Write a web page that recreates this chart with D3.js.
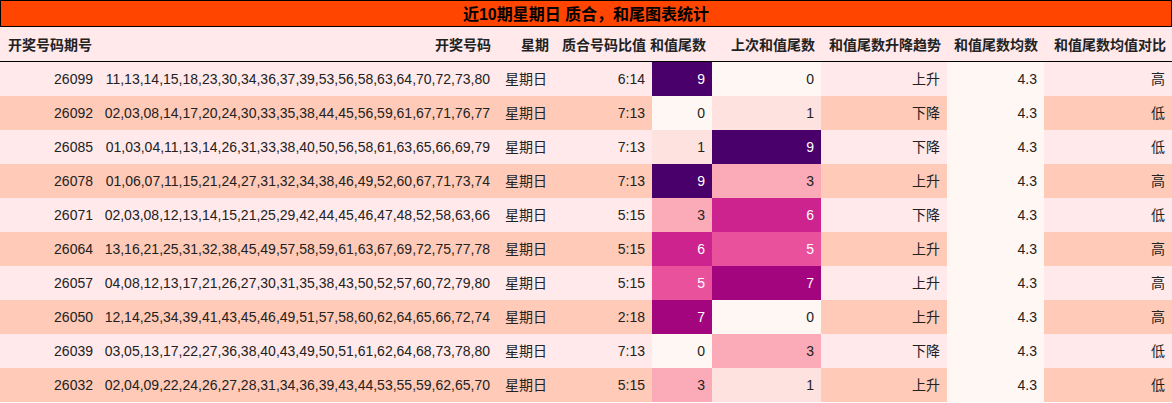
<!DOCTYPE html>
<html><head><meta charset="utf-8">
<script src="https://cdn.jsdelivr.net/npm/d3@7"></script>
<style>body{margin:0;background:#fff;} text{font-family:"Liberation Sans","Noto Sans CJK SC",sans-serif;}</style>
</head><body><svg id="c" width="1172" height="403"></svg>
<script>
const title="近10期星期日 质合，和尾图表统计";
const headers=["开奖号码期号","开奖号码","星期","质合号码比值","和值尾数","上次和值尾数","和值尾数升降趋势","和值尾数均数","和值尾数均值对比"];
const periods=["26099","26092","26085","26078","26071","26064","26057","26050","26039","26032"];
const numbers=["11,13,14,15,18,23,30,34,36,37,39,53,56,58,63,64,70,72,73,80","02,03,08,14,17,20,24,30,33,35,38,44,45,56,59,61,67,71,76,77","01,03,04,11,13,14,26,31,33,38,40,50,56,58,61,63,65,66,69,79","01,06,07,11,15,21,24,27,31,32,34,38,46,49,52,60,67,71,73,74","02,03,08,12,13,14,15,21,25,29,42,44,45,46,47,48,52,58,63,66","13,16,21,25,31,32,38,45,49,57,58,59,61,63,67,69,72,75,77,78","04,08,12,13,17,21,26,27,30,31,35,38,43,50,52,57,60,72,79,80","12,14,25,34,39,41,43,45,46,49,51,57,58,60,62,64,65,66,72,74","03,05,13,17,22,27,36,38,40,43,49,50,51,61,62,64,68,73,78,80","02,04,09,22,24,26,27,28,31,34,36,39,43,44,53,55,59,62,65,70"];
const weekdays=Array(10).fill("星期日");
const ratios=["6:14","7:13","7:13","7:13","5:15","5:15","5:15","2:18","7:13","5:15"];
const tails=[9,0,1,9,3,6,5,7,0,3];
const prevTails=[0,1,9,3,6,5,7,0,3,1];
const trends=["上升","下降","下降","上升","下降","上升","上升","上升","下降","上升"];
const avgs=[4.3,4.3,4.3,4.3,4.3,4.3,4.3,4.3,4.3,4.3];
const compares=["高","低","低","高","低","高","高","高","低","低"];

const colEdges=[0,100,497,555,652,712,821,947,1044,1172];
const svg=d3.select("#c");
const x=d3.scaleOrdinal().domain(d3.range(9)).range(colEdges.slice(0,9));
const w=i=>colEdges[i+1]-colEdges[i];
const y=d3.scaleBand().domain(d3.range(10)).range([62,402]);
const heat=d3.scaleSequential(d3.interpolateRdPu).domain([0,9]);
const rowBg=i=>i%2===0?"#ffe9eb":"#ffcab7";

svg.append("rect").attr("x",0.5).attr("y",0.5).attr("width",1171).attr("height",26).attr("fill","#ff4500").attr("stroke","#000");
svg.append("text").attr("x",586).attr("y",20).attr("text-anchor","middle").attr("font-size",16).attr("font-weight","bold").text(title);
svg.append("rect").attr("x",0).attr("y",27).attr("width",1172).attr("height",34).attr("fill","#ffe9eb");
headers.forEach((h,i)=>{
  const left=i===0;
  svg.append("text").attr("x",left?8:colEdges[i+1]-6).attr("y",50).attr("text-anchor",left?"start":"end")
    .attr("font-size",14).attr("font-weight","bold").attr("fill","#222").text(h);
});
svg.append("line").attr("x1",0).attr("x2",1172).attr("y1",61.5).attr("y2",61.5).attr("stroke","#000");

const rows=d3.range(10).map(i=>[periods[i],numbers[i],weekdays[i],ratios[i],tails[i],prevTails[i],trends[i],avgs[i].toFixed(1),compares[i]]);
rows.forEach((r,ri)=>{
  r.forEach((v,ci)=>{
    let fill=rowBg(ri), tc="#222";
    if(ci===4||ci===5){const val=ci===4?tails[ri]:prevTails[ri];fill=heat(val);if(val>=5)tc="#fff";}
    if(ci===7){fill=heat(0);}
    svg.append("rect").attr("x",x(ci)).attr("y",y(ri)).attr("width",w(ci)).attr("height",y.bandwidth()).attr("fill",fill);
    const center=ci===2;
    svg.append("text").attr("x",center?x(ci)+w(ci)/2:colEdges[ci+1]-7).attr("y",y(ri)+y.bandwidth()/2+5)
      .attr("text-anchor",center?"middle":"end").attr("font-size",14).attr("fill",tc).text(v);
  });
});
</script></body></html>
